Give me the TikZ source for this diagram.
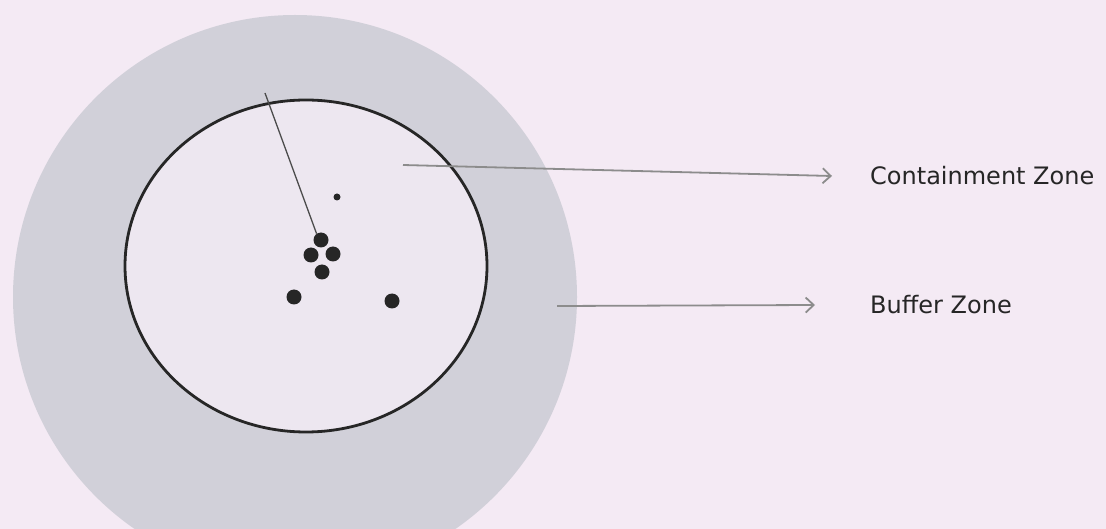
\documentclass[tikz,border=0pt]{standalone}
\usepackage{fontspec}
\setmainfont{DejaVu Sans}
\usetikzlibrary{arrows.meta,positioning,shapes.geometric}
\definecolor{pagebg}{HTML}{F4EAF4}
\definecolor{ringbg}{HTML}{D1D0D9}
\definecolor{corebg}{HTML}{EDE7F0}
\tikzset{
  zone/.style = {ellipse, inner sep=0pt},
  dot/.style  = {circle, fill=black!85, inner sep=0pt, minimum size=15pt},
  ar/.style   = {-{Straight Barb[length=8pt,width=15pt]}, draw=black!45, line width=1.8pt},
  lbl/.style  = {font=\fontsize{24}{28}\selectfont, text=black!85, anchor=west, inner sep=0pt},
}
\begin{document}
\begin{tikzpicture}[x=1pt,y=-1pt]
  \clip (0,0) rectangle (1106,529);
  \fill[pagebg] (0,0) rectangle (1106,529);
  % the two zones
  \node[zone, fill=ringbg, minimum width=564pt, minimum height=564pt] (buffer) at (295,297) {};
  \node[zone, fill=corebg, draw=black!85, line width=2.8pt,
        minimum width=362pt, minimum height=332pt] (core) at (306,266) {};
  % infected premises
  \node[dot, minimum size=7pt] (spot) at (337,197) {};
  \node[dot] (d1) at (321,240) {};
  \node[dot] (d2) at (311,255) {};
  \node[dot] (d3) at (333,254) {};
  \node[dot] (d4) at (322,272) {};
  \node[dot] (d5) at (294,297) {};
  \node[dot] (d6) at (392,301) {};
  % labels
  \node[lbl] (clbl) at (870,176) {Containment Zone};
  \node[lbl] (blbl) at (870,305) {Buffer Zone};
  \coordinate (cfrom) at (403,165);
  \coordinate (bfrom) at (557,306);
  \coordinate (pin) at (265,93);
  \draw[ar] (cfrom) -- ([xshift=-38pt]clbl.west);
  \draw[ar] (bfrom) -- ([xshift=-55pt]blbl.west);
  \draw[black!70, line width=1.3pt] (pin) -- (d1.125);
\end{tikzpicture}
\end{document}
